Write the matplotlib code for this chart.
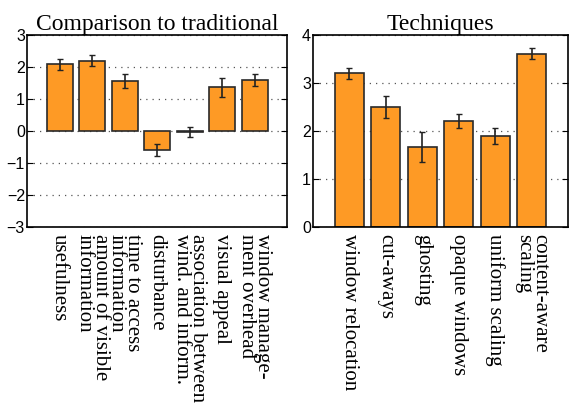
import numpy as np
import matplotlib
matplotlib.use("Agg")
import matplotlib.pyplot as plt
import matplotlib.transforms as mtransforms

# left panel: comparison to traditional
comp_labels = ["usefulness", "amount of visible\ninformation", "time to access\ninformation",
               "disturbance", "association between\nwind. and inform.", "visual appeal",
               "window manage-\nment overhead"]
comp_vals = [2.08, 2.2, 1.57, -0.6, -0.04, 1.36, 1.6]
comp_err = [0.16, 0.16, 0.22, 0.18, 0.16, 0.3, 0.19]

# right panel: techniques
tech_labels = ["window relocation", "cut-aways", "ghosting", "opaque windows",
               "uniform scaling", "content-aware\nscaling"]
tech_vals = [3.2, 2.5, 1.67, 2.21, 1.9, 3.61]
tech_err = [0.12, 0.22, 0.31, 0.14, 0.17, 0.12]

ORANGE = "#fe9a25"
serif = "Liberation Serif"
sans = "Liberation Sans"

fig = plt.figure(figsize=(5.69, 4.05), dpi=100)
ax1 = fig.add_axes([27/569, 1-227/405, 260/569, 192/405])
ax2 = fig.add_axes([313/569, 1-227/405, 255/569, 192/405])

def panel(ax, vals, err, labels, title, ylim, yticks):
    x = np.arange(1, len(vals)+1)
    ax.set_axisbelow(True)
    ax.yaxis.grid(True, linestyle=(0, (1, 4)), color="#555555", linewidth=0.9)
    ax.bar(x, vals, 0.8, color=ORANGE, edgecolor="#2a2a2a", linewidth=1.2, zorder=2)
    ax.errorbar(x, vals, yerr=err, fmt="none", ecolor="#222222", elinewidth=1.2,
                capsize=2.5, capthick=1.0, zorder=3)
    ax.set_xlim(0, len(vals)+1)
    ax.set_ylim(*ylim)
    ax.set_yticks(yticks)
    ax.set_yticklabels([str(t).replace("-", "\u2212") for t in yticks], fontfamily=sans, fontsize=11.5)
    ax.set_xticks(x)
    ax.set_xticklabels(labels, rotation=-90, fontfamily=serif, fontsize=15,
                       va="top", ha="center", multialignment="left", linespacing=0.8)
    shift = mtransforms.ScaledTranslation(-3/100, 0, fig.dpi_scale_trans)
    for lab in ax.get_xticklabels():
        lab.set_transform(lab.get_transform() + shift)
    ax.tick_params(axis="x", length=0, pad=5)
    ax.tick_params(axis="y", direction="in", length=4, right=True, pad=1.5)
    ax.set_title(title, fontfamily=serif, fontsize=17, pad=3)
    for s in ax.spines.values():
        s.set_linewidth(1.2)

panel(ax1, comp_vals, comp_err, comp_labels, "Comparison to traditional", (-3, 3), [-3, -2, -1, 0, 1, 2, 3])
panel(ax2, tech_vals, tech_err, tech_labels, "Techniques", (0, 4), [0, 1, 2, 3, 4])

fig.savefig("out.png", dpi=100)
